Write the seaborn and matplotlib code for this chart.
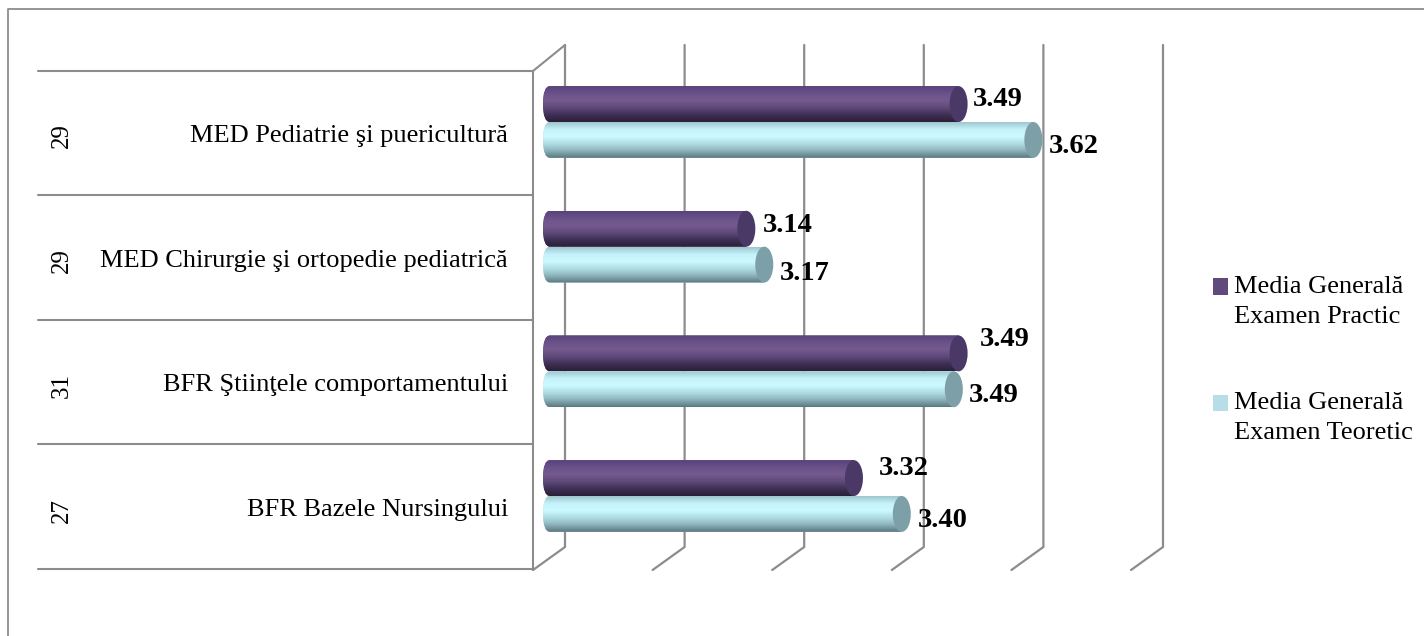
import matplotlib
matplotlib.use("Agg")
import matplotlib.pyplot as plt
from matplotlib.colors import LinearSegmentedColormap
from matplotlib.patches import Ellipse, PathPatch
from matplotlib.path import Path
import numpy as np
import pandas as pd
import seaborn as sns

categories = ["MED Pediatrie şi puericultură", "MED Chirurgie şi ortopedie pediatrică",
              "BFR Ştiinţele comportamentului", "BFR Bazele Nursingului"]
group_counts = ["29", "29", "31", "27"]
series_names = ["Media Generală\nExamen Practic", "Media Generală\nExamen Teoretic"]
practic = [3.495, 3.14, 3.495, 3.32]
teoretic = [3.62, 3.17, 3.487, 3.40]
practic_labels = ["3.49", "3.14", "3.49", "3.32"]
teoretic_labels = ["3.62", "3.17", "3.49", "3.40"]
grid_ticks = [2.8, 3.0, 3.2, 3.4, 3.6, 3.8]

# label offsets from the end of each bar, in pixels
practic_offsets = [(5, -5), (7, -3), (12, -14), (16, -10)]
teoretic_offsets = [(6, 7), (7, 9), (6, 6), (7, 7)]

W, H = 1424, 636
SERIF = ["Liberation Serif", "DejaVu Serif"]
GREY = "#8c8c8c"
PX_PER_UNIT = 598
CAP = 9  # half width of the cylinder end, px

sns.set_theme(style="white")
plt.rcParams["font.family"] = SERIF

df = pd.DataFrame({
    "cat": categories * 2,
    "val": practic + teoretic,
    "serie": [series_names[0]] * 4 + [series_names[1]] * 4,
})

fig = plt.figure(figsize=(W / 100, H / 100), dpi=100)

# background axes in pixels for the frame and the table on the left
bg = fig.add_axes([0, 0, 1, 1], zorder=0)
bg.set_xlim(0, W)
bg.set_ylim(H, 0)
bg.axis("off")
bg.plot([8, 8, W], [H, 9, 9], color=GREY, lw=1.3)
for y in [71, 195, 320, 444, 569]:
    bg.plot([38, 533], [y, y], color=GREY, lw=1.5)
bg.plot([533, 533], [71, 570], color=GREY, lw=1.5)
bg.plot([533, 565], [71, 45], color=GREY, lw=1.5)

# plot axes: left edge is 2.8 on the value scale, each category is 124.67 px
left, right, top, bottom = 543, 1190, 40, 600
ax = fig.add_axes([left / W, 1 - bottom / H, (right - left) / W, (bottom - top) / H], zorder=1)
ax.patch.set_alpha(0)
sns.barplot(data=df, y="cat", x="val", hue="serie", orient="h", width=0.575, gap=0,
            palette=["#604a7b", "#b7dee8"], saturation=1, ax=ax, linewidth=0)
ax.set_xlim(2.8, 2.8 + (right - left) / PX_PER_UNIT)
ax.set_ylim((bottom - 122) / 124.67, (top - 122) / 124.67)
ax.set_xlabel("")
ax.set_ylabel("")
ax.set_xticks([])
ax.set_yticks([])
for s in ax.spines.values():
    s.set_visible(False)

# back wall grid lines with their diagonal floor ticks
depth_x = 22 / PX_PER_UNIT
dy = 1 / 124.67
for t in grid_ticks:
    ax.plot([t + depth_x] * 2 + [t + depth_x - 32 / PX_PER_UNIT],
            [(45 - 122) * dy, (547 - 122) * dy, (570 - 122) * dy],
            color=GREY, lw=1.6, zorder=0.5, clip_on=False)

# cylinder shading on top of each seaborn bar
cmap_p = LinearSegmentedColormap.from_list("p", ["#57437a", "#6a5288", "#75598f", "#5f4a7a", "#3f3056", "#2a2036"])
cmap_t = LinearSegmentedColormap.from_list("t", ["#9fc7cf", "#c6f3fb", "#ccf8ff", "#b0dde5", "#8db4bc", "#5c7880"])
cap_colors = ["#4a3866", "#7da0a8"]
grad = np.linspace(0, 1, 64).reshape(-1, 1)
cap_x = CAP / PX_PER_UNIT
bars = sorted(ax.patches, key=lambda b: b.get_y())
bars = [b for b in bars if b.get_height() > 0 and b.get_width() > 0]
for k, bar in enumerate(bars):
    row, ser = k // 2, k % 2
    y0, h, end = bar.get_y(), bar.get_height(), bar.get_width()
    x0 = 2.8
    bend = 7 / PX_PER_UNIT
    outline = Path(
        [(x0 + bend, y0), (end, y0), (end, y0 + h), (x0 + bend, y0 + h),
         (x0, y0 + h), (x0, y0 + h / 2), (x0, y0), (x0 + bend, y0)],
        [Path.MOVETO, Path.LINETO, Path.LINETO, Path.LINETO,
         Path.CURVE3, Path.CURVE3, Path.CURVE3, Path.CURVE3])
    clip = PathPatch(outline, transform=ax.transData, fc="none", ec="none")
    ax.add_patch(clip)
    bar.set_clip_path(clip)
    im = ax.imshow(grad, cmap=cmap_t if ser else cmap_p, aspect="auto",
                   extent=(x0, end, y0 + h, y0), zorder=3, clip_on=True)
    im.set_clip_path(clip)
    ax.add_patch(Ellipse((end, y0 + h / 2), 2 * cap_x, h, fc=cap_colors[ser], ec="none",
                         zorder=3.5, clip_on=False))
    # value labels
    txt = teoretic_labels[row] if ser else practic_labels[row]
    off = teoretic_offsets[row] if ser else practic_offsets[row]
    ax.annotate(txt, xy=(end + cap_x, y0 + h / 2), xytext=(off[0] * 0.72, -off[1] * 0.72),
                textcoords="offset points", ha="left", va="center", fontsize=20.5,
                fontweight="bold", color="black",
                annotation_clip=False, zorder=5)

ax.set_xlim(2.8, 2.8 + (right - left) / PX_PER_UNIT)
ax.set_ylim((bottom - 122) / 124.67, (top - 122) / 124.67)

# category and count labels in the table
ytr = ax.get_yaxis_transform()
for i, (c, n) in enumerate(zip(categories, group_counts)):
    ax.annotate(c, xy=(0, i), xycoords=ytr, xytext=(-35 * 0.72, -14 * 0.72), textcoords="offset points",
                ha="right", va="center", fontsize=19, color="black", annotation_clip=False)
    ax.annotate(n, xy=(0, i), xycoords=ytr, xytext=(-481 * 0.72, -14 * 0.72), textcoords="offset points",
                ha="center", va="center", rotation=90, fontsize=18, color="black", annotation_clip=False)

handles, labels = ax.get_legend_handles_labels()
leg = ax.legend(handles, labels, loc="center left", bbox_to_anchor=(1213 / W, 1 - 360 / H),
                bbox_transform=fig.transFigure, frameon=False, fontsize=19,
                labelspacing=2.45, handlelength=0.57, handleheight=0.57, handletextpad=0.23,
                borderpad=0, borderaxespad=0, labelcolor="black")
for t in leg.get_texts():
    t.set_linespacing(1.45)
# the square sits beside the first line of each entry
for h in leg.legend_handles:
    h.set_y(h.get_y() + 10.5)

fig.savefig("out.png", dpi=100)
